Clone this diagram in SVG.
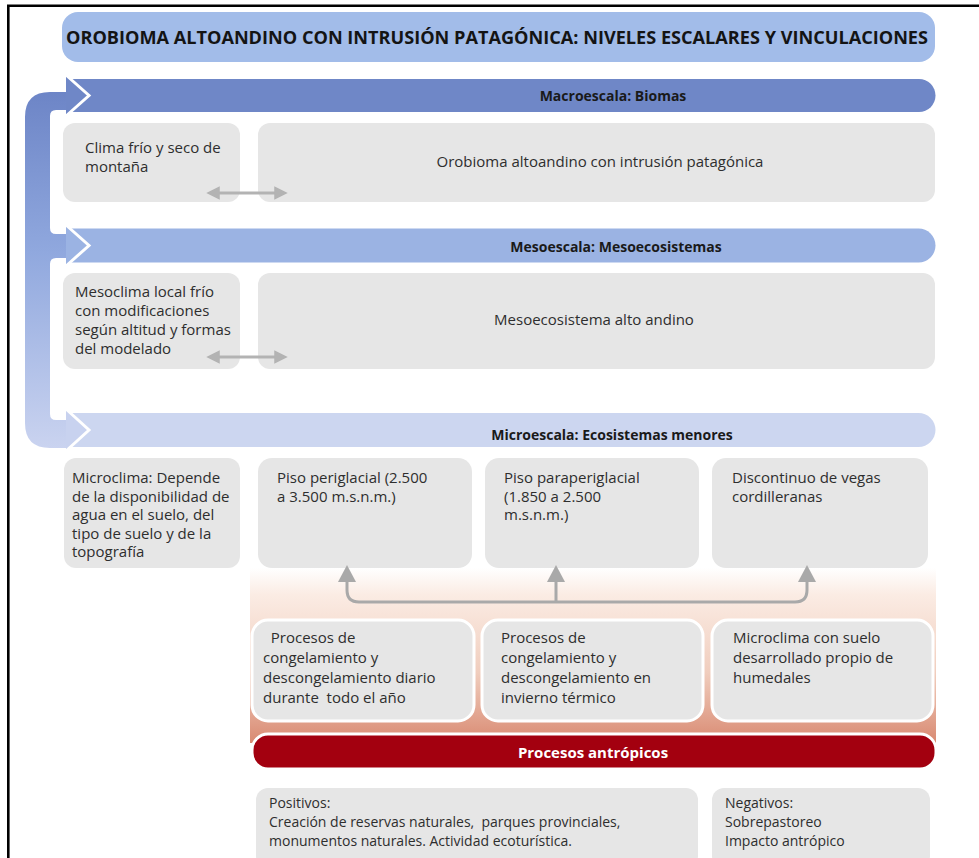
<svg xmlns="http://www.w3.org/2000/svg" width="979" height="858" viewBox="0 0 979 858">
<defs>
<linearGradient id="brk" gradientUnits="userSpaceOnUse" x1="0" y1="88" x2="0" y2="452">
<stop offset="0" stop-color="#6c84c6"/>
<stop offset="0.45" stop-color="#90a8de"/>
<stop offset="1" stop-color="#cbd4f0"/>
</linearGradient>
<linearGradient id="peach" x1="0" y1="0" x2="0" y2="1">
<stop offset="0" stop-color="#ffffff"/>
<stop offset="0.15" stop-color="#fbece4"/>
<stop offset="0.6" stop-color="#f0cdbd"/>
<stop offset="1" stop-color="#d98a72"/>
</linearGradient>
<marker id="ah" viewBox="0 0 10 10" refX="5" refY="5" markerWidth="4.5" markerHeight="4.5" orient="auto-start-reverse" markerUnits="strokeWidth">
<path d="M0,0 L10,5 L0,10 Z" fill="#b3b3b3"/>
</marker>
</defs>
<style>
.t{font-family:"Open Sans","Liberation Sans",sans-serif;font-size:15px;fill:#2e2e2e}
.s{font-size:14px}
.b{font-family:"Open Sans","Liberation Sans",sans-serif;font-size:14px;font-weight:bold;fill:#1a1a1a;text-anchor:middle}
.c{text-anchor:middle}
.box{fill:#e6e6e6}
.wbox{fill:#e6e6e6;stroke:#ffffff;stroke-width:3}
.chev{fill:none;stroke:#ffffff;stroke-width:3;stroke-linejoin:miter}
.dbl{fill:none;stroke:#b3b3b3;stroke-width:3;marker-start:url(#ah);marker-end:url(#ah)}
.upl{fill:none;stroke:#a9a9a9;stroke-width:3}
.uph{fill:#a9a9a9}
</style>
<rect x="0" y="0" width="979" height="858" fill="#ffffff"/>
<path d="M8.3,858 V5.8 H979" fill="none" stroke="#000" stroke-width="2.6"/>

<g id="title">
<rect x="62" y="12" width="873" height="50" rx="16" fill="#a2bce9"/>
<text x="497" y="44" font-family="'Open Sans','Liberation Sans',sans-serif" font-size="17" font-weight="bold" fill="#141414" text-anchor="middle" textLength="862" lengthAdjust="spacingAndGlyphs">OROBIOMA ALTOANDINO CON INTRUSIÓN PATAGÓNICA: NIVELES ESCALARES Y VINCULACIONES</text>
</g>

<g id="bracket">
<path d="M67,92 H50 Q25,92 25,117 V423 Q25,448 50,448 H67 V420 H56 Q50,420 50,414 V264 Q50,258 56,258 H67 V234 H56 Q50,234 50,228 V116 Q50,110 56,110 H67 Z" fill="url(#brk)"/>
</g>

<g id="macro">
<path d="M66,79 H919 A16.5,16.5 0 0 1 919,112 H66 Z" fill="#6f87c7"/>
<path d="M66,76 L89,95.5 L66,115 Z" fill="#6f87c7"/>
<polyline class="chev" points="66,75 89,95.5 66,116"/>
<text class="b" x="613" y="101">Macroescala: Biomas</text>
</g>
<g id="clima">
<rect class="box" x="63" y="123" width="177" height="79" rx="12"/>
<text class="t" x="85" y="153">Clima frío y seco de</text>
<text class="t" x="85" y="172">montaña</text>
</g>
<g id="orobioma">
<rect class="box" x="258" y="123" width="677" height="79" rx="12"/>
<text class="t c" x="600" y="167">Orobioma altoandino con intrusión patagónica</text>
</g>

<g id="meso">
<path d="M66,228.5 H918.5 A17,17 0 0 1 918.5,262.5 H66 Z" fill="#9bb3e3"/>
<path d="M66,226 L89,245.5 L66,265 Z" fill="#9bb3e3"/>
<polyline class="chev" points="66,225 89,245.5 66,266"/>
<text class="b" x="616" y="252">Mesoescala: Mesoecosistemas</text>
</g>
<g id="mesoclima">
<rect class="box" x="63" y="273" width="177" height="96" rx="12"/>
<text class="t" x="75" y="297">Mesoclima local frío</text>
<text class="t" x="75" y="316">con modificaciones</text>
<text class="t" x="75" y="335">según altitud y formas</text>
<text class="t" x="75" y="354">del modelado</text>
</g>
<g id="mesoeco">
<rect class="box" x="258" y="273" width="677" height="96" rx="12"/>
<text class="t c" x="594" y="325">Mesoecosistema alto andino</text>
</g>

<g id="micro">
<path d="M66,413 H918.5 A17,17 0 0 1 918.5,447 H66 Z" fill="#ccd6f0"/>
<path d="M66,410 L89,430 L66,450 Z" fill="#c8d2ef"/>
<polyline class="chev" points="66,409 89,430 66,451"/>
<text class="b" x="612" y="440">Microescala: Ecosistemas menores</text>
</g>

<g id="microclima">
<rect class="box" x="64" y="458" width="176" height="110" rx="12"/>
<text class="t" x="72" y="483">Microclima: Depende</text>
<text class="t" x="72" y="501.5">de la disponibilidad de</text>
<text class="t" x="72" y="520">agua en el suelo, del</text>
<text class="t" x="72" y="538.5">tipo de suelo y de la</text>
<text class="t" x="72" y="557">topografía</text>
</g>

<g id="peach-panel">
<rect x="250" y="568" width="686" height="175" fill="url(#peach)"/>
</g>

<g id="periglacial">
<rect class="box" x="258" y="458" width="214" height="110" rx="14"/>
<text class="t" x="277" y="483">Piso periglacial (2.500</text>
<text class="t" x="277" y="501.5">a 3.500 m.s.n.m.)</text>
</g>
<g id="paraperiglacial">
<rect class="box" x="485" y="458" width="214" height="110" rx="14"/>
<text class="t" x="504" y="483">Piso paraperiglacial</text>
<text class="t" x="504" y="501.5">(1.850 a 2.500</text>
<text class="t" x="504" y="520">m.s.n.m.)</text>
</g>
<g id="vegas">
<rect class="box" x="712" y="458" width="216" height="110" rx="14"/>
<text class="t" x="732" y="483">Discontinuo de vegas</text>
<text class="t" x="732" y="501.5">cordilleranas</text>
</g>

<g id="proc-diario">
<rect class="wbox" x="252" y="620" width="222" height="101" rx="16"/>
<text class="t" x="263" y="643" xml:space="preserve">  Procesos de</text>
<text class="t" x="263" y="663">congelamiento y</text>
<text class="t" x="263" y="683">descongelamiento diario</text>
<text class="t" x="263" y="703" xml:space="preserve">durante  todo el año</text>
</g>
<g id="proc-invierno">
<rect class="wbox" x="482" y="620" width="221" height="101" rx="16"/>
<text class="t" x="501" y="643">Procesos de</text>
<text class="t" x="501" y="663">congelamiento y</text>
<text class="t" x="501" y="683">descongelamiento en</text>
<text class="t" x="501" y="703">invierno térmico</text>
</g>
<g id="humedales">
<rect class="wbox" x="712" y="620" width="221" height="101" rx="16"/>
<text class="t" x="733" y="643">Microclima con suelo</text>
<text class="t" x="733" y="663">desarrollado propio de</text>
<text class="t" x="733" y="683">humedales</text>
</g>

<g id="antropicos">
<rect x="252" y="734" width="684" height="35" rx="16" fill="#a3000f" stroke="#ffffff" stroke-width="3"/>
<text x="593" y="758" font-family="'Open Sans','Liberation Sans',sans-serif" font-size="15" font-weight="bold" fill="#ffffff" text-anchor="middle">Procesos antrópicos</text>
</g>

<g id="positivos">
<rect class="box" x="256" y="788" width="442" height="80" rx="12"/>
<text class="t s" x="269" y="808">Positivos:</text>
<text class="t s" x="269" y="827" xml:space="preserve">Creación de reservas naturales,  parques provinciales,</text>
<text class="t s" x="269" y="846">monumentos naturales. Actividad ecoturística.</text>
</g>
<g id="negativos">
<rect class="box" x="712" y="788" width="218" height="80" rx="12"/>
<text class="t s" x="725" y="808">Negativos:</text>
<text class="t s" x="725" y="827">Sobrepastoreo</text>
<text class="t s" x="725" y="846">Impacto antrópico</text>
</g>

<g id="connectors">
<line class="dbl" x1="213" y1="193" x2="281" y2="193"/>
<line class="dbl" x1="213" y1="357" x2="281" y2="357"/>
<path class="upl" d="M347,580 V590 Q347,602 359,602 H795 Q807,602 807,590 V580"/>
<path class="upl" d="M556,602 V580"/>
<path class="uph" d="M338,582 L347,565 L356,582 Z"/>
<path class="uph" d="M547,582 L556,565 L565,582 Z"/>
<path class="uph" d="M798,582 L807,565 L816,582 Z"/>
</g>
</svg>
